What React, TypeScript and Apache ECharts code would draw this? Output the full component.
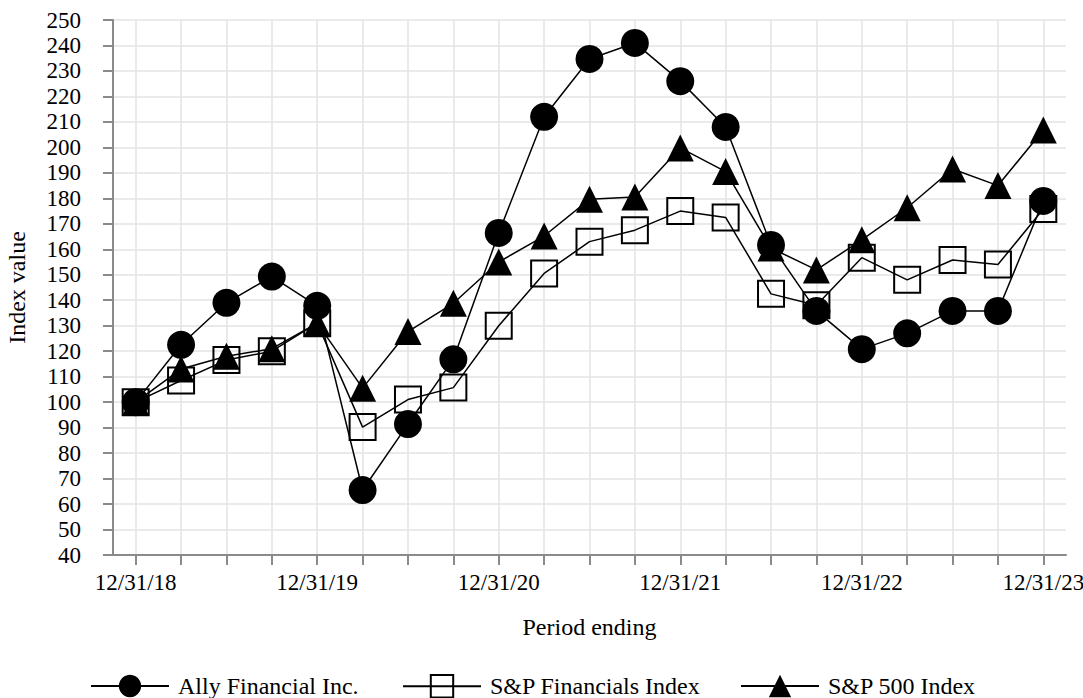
import React, { useEffect, useRef } from "react";
import * as echarts from "echarts";

const categories = [
  "12/31/18", "3/31/19", "6/30/19", "9/30/19", "12/31/19", "3/31/20", "6/30/20",
  "9/30/20", "12/31/20", "3/31/21", "6/30/21", "9/30/21", "12/31/21", "3/31/22",
  "6/30/22", "9/30/22", "12/31/22", "3/31/23", "6/30/23", "9/30/23", "12/31/23",
];

const allyValues = [
  100, 122.5, 139, 149.3, 137.8, 65.5, 91.4, 116.8, 166.4, 212, 234.7, 241, 226,
  208, 161.7, 135.8, 120.8, 127, 135.8, 135.8, 179,
];

const financialsValues = [
  100, 108.5, 116.5, 120, 131, 90.2, 101, 105.7, 130, 150.5, 163, 167.5, 175,
  172.5, 142.5, 138, 156.7, 148, 155.8, 154, 175.8,
];

const sp500Values = [
  100, 113, 118, 121, 131, 105.5, 127.7, 138.8, 155, 165.2, 179.6, 180.5, 199.8,
  190.5, 160.5, 151.9, 163.7, 176.3, 191.5, 185, 206.8,
];

const seriesNames = ["Ally Financial Inc.", "S&P Financials Index", "S&P 500 Index"];
const legendLefts = [90, 402, 740];

const FONT = "'Liberation Serif', 'Times New Roman', serif";

export default function App() {
  const ref = useRef<HTMLDivElement>(null);

  useEffect(() => {
    if (!ref.current) return;
    const chart = echarts.init(ref.current, undefined, { renderer: "svg" });
    const axisLineColor = "#8a8a8a";
    const gridColor = "#e3e3e3";
    chart.setOption({
      animation: false,
      backgroundColor: "#ffffff",
      textStyle: { fontFamily: FONT, color: "#000" },
      grid: {
        left: 113,
        right: 17,
        top: 20,
        bottom: 143,
        containLabel: false,
        outerBoundsMode: "none",
      },
      legend: seriesNames.map((name, i) => ({
        left: legendLefts[i],
        top: 674,
        padding: 0,
        itemWidth: 78,
        itemHeight: 28,
        data: [name],
        textStyle: { fontFamily: FONT, fontSize: 24, color: "#000", padding: [0, 0, 0, 4] },
      })),
      xAxis: {
        type: "category",
        data: categories,
        boundaryGap: true,
        name: "Period ending",
        nameLocation: "middle",
        nameGap: 60,
        nameTextStyle: { fontFamily: FONT, fontSize: 24, color: "#000" },
        axisLine: { lineStyle: { color: axisLineColor, width: 2 } },
        axisTick: {
          show: true,
          alignWithLabel: true,
          interval: 0,
          length: 10,
          lineStyle: { color: axisLineColor, width: 2 },
        },
        axisLabel: {
          interval: 3,
          margin: 16,
          fontFamily: FONT,
          fontSize: 23,
          color: "#000",
        },
        splitLine: {
          show: true,
          interval: 0,
          alignWithLabel: true,
          lineStyle: { color: gridColor, width: 1.5 },
        },
      },
      yAxis: {
        type: "value",
        min: 40,
        max: 250,
        interval: 10,
        name: "Index value",
        nameLocation: "middle",
        nameGap: 84,
        nameRotate: 90,
        nameTextStyle: { fontFamily: FONT, fontSize: 24, color: "#000" },
        axisLine: { show: true, lineStyle: { color: axisLineColor, width: 2 } },
        axisTick: { show: true, length: 10, lineStyle: { color: axisLineColor, width: 2 } },
        axisLabel: { margin: 32, fontFamily: FONT, fontSize: 23, color: "#000" },
        splitLine: { show: true, lineStyle: { color: gridColor, width: 1.5 } },
      },
      series: [
        {
          name: seriesNames[0],
          type: "line",
          data: allyValues,
          symbol: "circle",
          symbolSize: 28,
          z: 4,
          lineStyle: { color: "#000", width: 1.5 },
          itemStyle: { color: "#000" },
        },
        {
          name: seriesNames[1],
          type: "line",
          data: financialsValues,
          symbol: "rect",
          symbolSize: 26,
          z: 2,
          lineStyle: { color: "#000", width: 1.5 },
          itemStyle: { color: "rgba(0,0,0,0)", borderColor: "#000", borderWidth: 2 },
        },
        {
          name: seriesNames[2],
          type: "line",
          data: sp500Values,
          symbol: "triangle",
          symbolSize: 27,
          z: 3,
          lineStyle: { color: "#000", width: 1.5 },
          itemStyle: { color: "#000" },
        },
      ],
    });
    return () => chart.dispose();
  }, []);

  return (
    <div
      ref={ref}
      style={{ position: "absolute", left: 0, top: 0, width: 1083, height: 698 }}
    />
  );
}
